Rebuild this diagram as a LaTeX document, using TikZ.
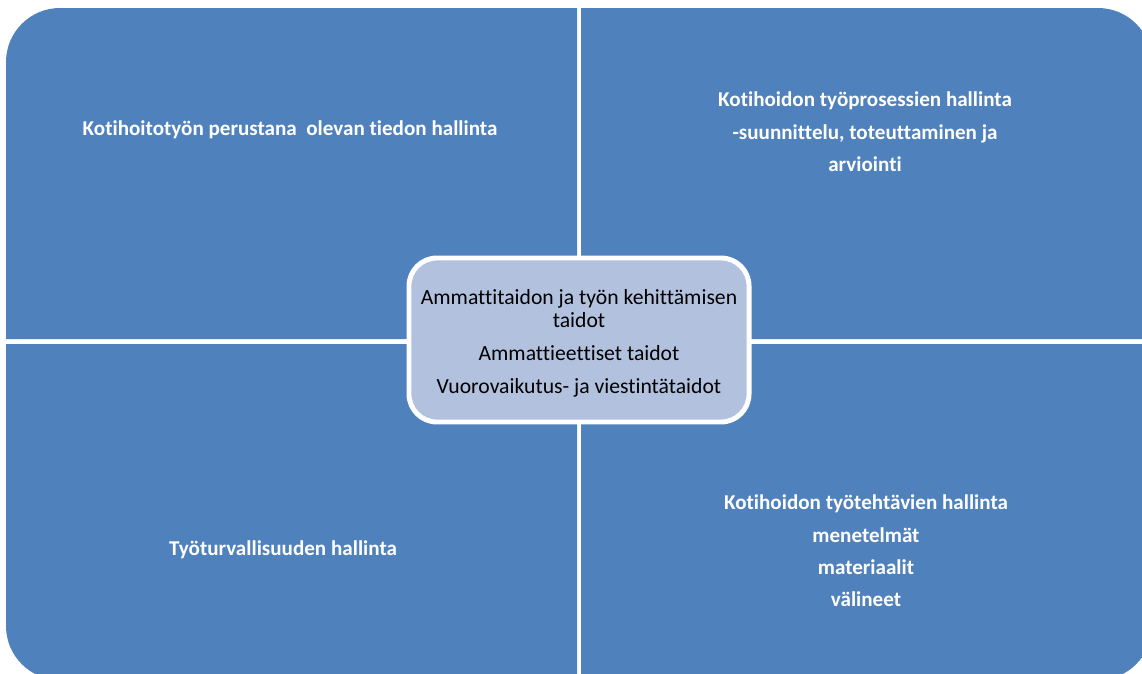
\documentclass[tikz,border=0pt]{standalone}
\usepackage{fontspec}
\setmainfont{Carlito}[Ligatures=NoCommon]
\definecolor{quadblue}{RGB}{79,129,189}
\definecolor{coreblue}{RGB}{178,194,222}
\begin{document}
\begin{tikzpicture}[x=0.025cm, y=-0.025cm, line join=round]
			\tikzset{quad/.style={fill=quadblue},
				quadtext/.style={text=white, align=center, font=\fontsize{15}{23}\selectfont\bfseries},
				core/.style={draw=white, line width=3.5pt, fill=coreblue, rounded corners=0.7cm, minimum width=8.5cm, minimum height=4.1cm, align=center, font=\fontsize{15.4}{16.4}\selectfont}}
			\useasboundingbox (0,0) rectangle (1142,673);
			% the four fields
			\fill[quad] (6,339) [rounded corners=1.35cm] -- (6,8) [sharp corners] -- (577,8) -- (577,339) -- cycle;
			\fill[quad] (581,8) [rounded corners=1.35cm] -- (1152,8) [sharp corners] -- (1152,339) -- (581,339) -- cycle;
			\fill[quad] (577,344) -- (577,680) [rounded corners=1.35cm] -- (6,680) [sharp corners] -- (6,344) -- cycle;
			\fill[quad] (581,344) -- (1152,344) [rounded corners=1.35cm] -- (1152,680) [sharp corners] -- (581,680) -- cycle;
			\node[quadtext] (tieto) at (290,130) {Kotihoitotyön perustana\ \ olevan tiedon hallinta};
			\node[quadtext] (prosessi) at (865,132) {Kotihoidon työprosessien hallinta\\-suunnittelu, toteuttaminen ja\\arviointi};
			\node[quadtext] (turva) at (283,550) {Työturvallisuuden hallinta};
			\node[quadtext] (tehtavat) at (866,551) {Kotihoidon työtehtävien hallinta\\menetelmät\\materiaalit\\välineet};
			% the middle
			\node[core] (taidot) at (579,340) {};
			\node[align=center, font=\fontsize{15.4}{16.4}\selectfont] (taidotteksti) at (579,343) {Ammattitaidon ja työn kehittämisen\\taidot\\[7pt]Ammattieettiset taidot\\[7pt]Vuorovaikutus- ja viestintätaidot};
		\end{tikzpicture}
\end{document}
